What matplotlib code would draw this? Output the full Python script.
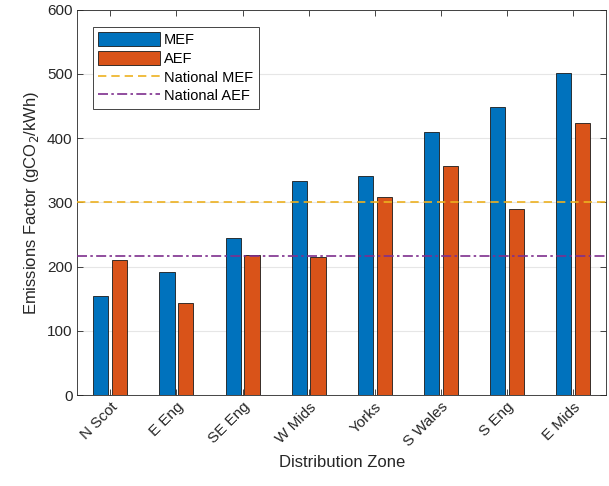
import numpy as np
import matplotlib
matplotlib.use("Agg")
import matplotlib.pyplot as plt

plt.rcParams['font.family'] = ['Liberation Sans', 'DejaVu Sans']

# data
zones = ['N Scot', 'E Eng', 'SE Eng', 'W Mids', 'Yorks', 'S Wales', 'S Eng', 'E Mids']
mef = [155, 192, 244, 333, 341, 410, 449, 501]
aef = [210, 143, 218, 215, 309, 356, 290, 423]
national_mef = 300
national_aef = 216

fig = plt.figure(figsize=(6.09, 4.86), dpi=100)
ax = fig.add_axes([0.127, 0.187, 0.868, 0.793])

x = np.arange(1, len(zones) + 1)
w = 0.229
off = 0.143
b1 = ax.bar(x - off, mef, w, color='#0072BD', edgecolor='#1a1a1a', linewidth=0.6, label='MEF', zorder=3)
b2 = ax.bar(x + off, aef, w, color='#D95319', edgecolor='#1a1a1a', linewidth=0.6, label='AEF', zorder=3)
l1 = ax.axhline(national_mef, color='#EDB120', linestyle=(0, (5, 3)), linewidth=1.2, label='National MEF', zorder=4)
l2 = ax.axhline(national_aef, color='#7E2F8E', linestyle=(0, (6, 2, 1.5, 2)), linewidth=1.2, label='National AEF', zorder=4)

ax.set_xlim(0.5, 8.5)
ax.set_ylim(0, 600)
ax.set_yticks(range(0, 601, 100))
ax.set_xticks(x)
ax.set_xticklabels(zones, rotation=45, ha='right', rotation_mode='anchor', fontsize=11, color='#262626')
ax.tick_params(axis='y', labelsize=11, labelcolor='#262626')
ax.tick_params(direction='in', top=True, right=True, length=4, color='#262626', width=0.6)
ax.yaxis.grid(True, color='#e6e6e6', linewidth=0.8, zorder=0)
ax.set_axisbelow(True)
for s in ax.spines.values():
    s.set_color('#262626')
    s.set_linewidth(0.6)

ax.set_xlabel('Distribution Zone', fontsize=12, color='#262626')
ax.set_ylabel('Emissions Factor (gCO$_2$/kWh)', fontsize=12, color='#262626')

leg = ax.legend([b1, b2, l1, l2], ['MEF', 'AEF', 'National MEF', 'National AEF'],
                loc='upper left', bbox_to_anchor=(0.015, 0.975), fontsize=10.5, handlelength=4.2,
                handleheight=1.1, labelspacing=0.25, handletextpad=0.3, borderpad=0.4,
                fancybox=False, framealpha=1, edgecolor='#262626')
leg.get_frame().set_linewidth(0.6)

fig.savefig('out.png', dpi=100)
